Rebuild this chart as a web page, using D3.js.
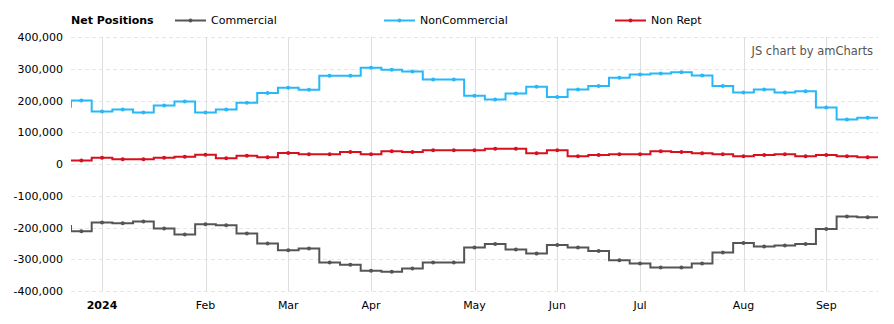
<!DOCTYPE html>
<html>
<head>
<meta charset="utf-8">
<script src="https://cdn.jsdelivr.net/npm/d3@7"></script>
<style>
  html, body { margin: 0; padding: 0; background: #fff; }
  svg text { font-family: "DejaVu Sans", Verdana, sans-serif; }
</style>
</head>
<body>
<svg id="chart" width="894" height="324"></svg>
<script>
// Weekly report dates (first entry lies just before the visible range)
const dates = [
  "2023-12-19","2023-12-26",
  "2024-01-02","2024-01-09","2024-01-16","2024-01-23","2024-01-30",
  "2024-02-06","2024-02-13","2024-02-20","2024-02-27",
  "2024-03-05","2024-03-12","2024-03-19","2024-03-26",
  "2024-04-02","2024-04-09","2024-04-16","2024-04-23","2024-04-30",
  "2024-05-07","2024-05-14","2024-05-21","2024-05-28",
  "2024-06-04","2024-06-11","2024-06-18","2024-06-25",
  "2024-07-02","2024-07-09","2024-07-16","2024-07-23","2024-07-30",
  "2024-08-06","2024-08-13","2024-08-20","2024-08-27",
  "2024-09-03","2024-09-10","2024-09-17"
];
const commercial = [
  -195000,-212000,
  -184000,-187000,-181000,-203000,-222000,
  -190000,-193000,-219000,-250000,
  -272000,-266000,-310000,-317000,
  -336000,-339000,-329000,-310000,-310000,
  -263000,-252000,-269000,-282000,
  -255000,-263000,-274000,-303000,
  -313000,-326000,-326000,-313000,-279000,
  -249000,-260000,-257000,-252000,
  -205000,-165000,-168000
];
const nonCommercial = [
  180000,200000,
  165000,172000,162000,184000,197000,
  162000,172000,193000,224000,
  240000,234000,278000,278000,
  303000,297000,291000,266000,266000,
  215000,203000,222000,243000,
  211000,235000,246000,272000,
  282000,285000,289000,279000,246000,
  225000,235000,225000,229000,
  178000,140000,146000
];
const nonRept = [
  11000,11000,
  19500,15000,15000,19500,22500,
  29000,18500,26000,21500,
  35000,31000,31000,37500,
  31000,40500,37500,43500,43500,
  43500,48000,48000,34000,
  43500,24500,28000,31000,
  31000,40500,37500,34000,31000,
  24500,28000,31000,24500,
  28000,24500,21500
];
const yTicks = [400000, 300000, 200000, 100000, 0, -100000, -200000, -300000, -400000];
const seriesNames = ["Commercial", "NonCommercial", "Non Rept"];
const seriesColors = ["#555555", "#26b8f8", "#d7101f"];
const seriesValues = [commercial, nonCommercial, nonRept];

(function () {
const svg = d3.select("#chart");
const pL = 71, pR = 878, pT = 37, pB = 291;
const parse = d3.timeParse("%Y-%m-%d");
const parsed = dates.map(parse);

// equal spacing per data point (index based), first visible = index 1
const x = d3.scaleLinear().domain([0.5, dates.length - 0.5]).range([pL, pR]);
const y = d3.scaleLinear().domain([-400000, 400000]).range([pB, pT]);

svg.append("defs").append("clipPath").attr("id", "clip")
  .append("rect").attr("x", pL).attr("y", pT - 10).attr("width", pR - pL).attr("height", pB - pT + 20);

// horizontal dashed grid
svg.append("g").selectAll("line").data(yTicks).join("line")
  .attr("x1", pL).attr("x2", pR)
  .attr("y1", d => Math.round(y(d)) + 0.5).attr("y2", d => Math.round(y(d)) + 0.5)
  .attr("stroke", "#e6e6e6").attr("stroke-width", 1).attr("stroke-dasharray", "4,3");

// month gridlines at first data point of each month
const monthStarts = [];
parsed.forEach((d, i) => {
  if (i === 0) return;
  if (d.getMonth() !== parsed[i - 1].getMonth()) monthStarts.push(i);
});
const fmtMonth = d3.timeFormat("%b");
const vg = svg.append("g");
vg.selectAll("line").data(monthStarts).join("line")
  .attr("x1", i => Math.round(x(i)) + 0.5).attr("x2", i => Math.round(x(i)) + 0.5)
  .attr("y1", pT).attr("y2", pB)
  .attr("stroke", "#dedede").attr("stroke-width", 1);
vg.selectAll("text").data(monthStarts).join("text")
  .attr("x", i => x(i)).attr("y", 309)
  .attr("text-anchor", "middle").attr("font-size", 11).attr("fill", "#000")
  .attr("font-weight", i => parsed[i].getMonth() === 0 ? "bold" : "normal")
  .text(i => parsed[i].getMonth() === 0 ? d3.timeFormat("%Y")(parsed[i]) : fmtMonth(parsed[i]));

// y axis labels
svg.append("g").selectAll("text").data(yTicks).join("text")
  .attr("x", 63).attr("y", d => y(d) + 4)
  .attr("text-anchor", "end").attr("font-size", 11).attr("fill", "#000")
  .text(d => d3.format(",")(d).replace("\u2212", "-"));

// step lines
const line = d3.line().curve(d3.curveStep).x((d, i) => x(i)).y(d => y(d));
const plot = svg.append("g").attr("clip-path", "url(#clip)");
[2, 1, 0].forEach(s => {
  const vals = seriesValues[s];
  plot.append("path")
    .attr("d", line(vals) + "H" + pR)
    .attr("fill", "none").attr("stroke", seriesColors[s]).attr("stroke-width", 2);
  plot.append("g").selectAll("circle").data(vals).join("circle")
    .attr("cx", (d, i) => x(i)).attr("cy", d => y(d)).attr("r", 2)
    .attr("fill", seriesColors[s]);
});

// title & legend
svg.append("text").attr("x", 71).attr("y", 24).attr("font-size", 11).attr("font-weight", "bold")
  .attr("fill", "#000").text("Net Positions");
const legendX = [175, 384, 615];
const lg = svg.append("g").selectAll("g").data(seriesNames).join("g")
  .attr("transform", (d, i) => `translate(${legendX[i]},20)`);
lg.append("line").attr("x1", 0).attr("x2", 31).attr("y1", 0.5).attr("y2", 0.5)
  .attr("stroke", (d, i) => seriesColors[i]).attr("stroke-width", 2);
lg.append("circle").attr("cx", 15.5).attr("cy", 0.5).attr("r", 2).attr("fill", (d, i) => seriesColors[i]);
lg.append("text").attr("x", 36).attr("y", 4).attr("font-size", 11).attr("fill", "#000").text(d => d);

svg.append("text").attr("x", 873).attr("y", 55).attr("text-anchor", "end")
  .attr("font-size", 11.5).attr("fill", "#555").text("JS chart by amCharts");
})();
</script>
</body>
</html>
